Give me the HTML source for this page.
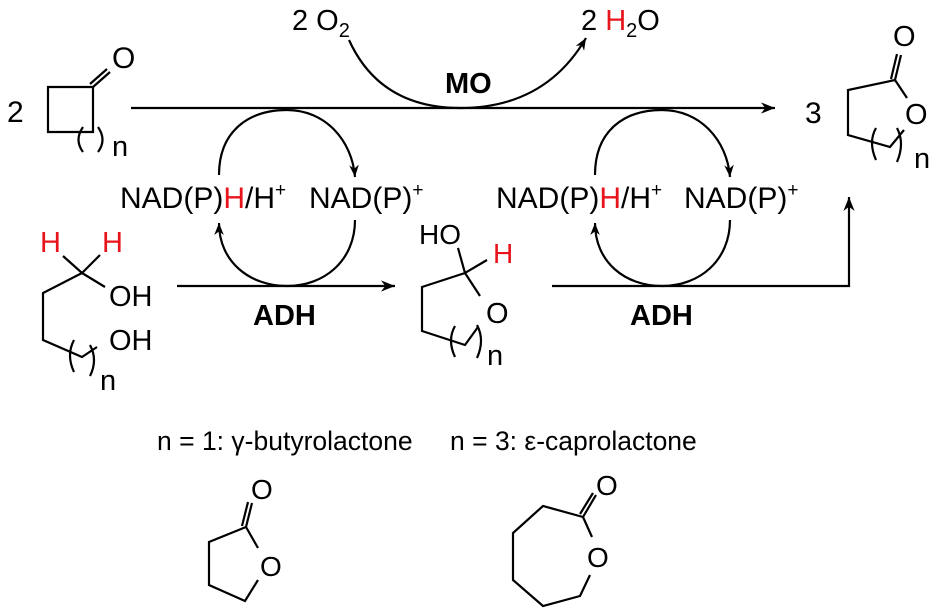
<!DOCTYPE html>
<html><head><meta charset="utf-8"><style>
html,body{margin:0;padding:0;background:#fff}
svg{display:block}
text{font-family:"Liberation Sans",Arial,sans-serif;fill:#000}
.r{fill:#e8141b}
</style></head><body>
<svg width="931" height="610" viewBox="0 0 931 610" xmlns="http://www.w3.org/2000/svg">
<defs>
<marker id="ah" viewBox="0 0 10 10" refX="10" refY="5" markerWidth="15" markerHeight="12" markerUnits="userSpaceOnUse" orient="auto">
<path d="M0,1 L10,5 L0,9 L3,5 Z" fill="#000"/></marker>
<marker id="ahL" viewBox="0 0 10 10" refX="10" refY="5" markerWidth="22" markerHeight="14" markerUnits="userSpaceOnUse" orient="auto">
<path d="M0,1 L10,5 L0,9 L3,5 Z" fill="#000"/></marker>
</defs>
<g stroke="#000" stroke-width="2.2" fill="none">
<path d="M48,87 H93 V132 H48 Z"/>
<path d="M93,87 L110,72 M90,84 L107,69"/>
<path d="M83,127 Q74,140 83,152 M98,127 Q107,140 98,152"/>
<path d="M131,108 H775" marker-end="url(#ahL)"/>
<path d="M349,40 Q380,108 460,108 Q545,108 586,38" marker-end="url(#ah)"/>
<path d="M219,175 C219,130 250,110 287,110 C325,110 352,140 355,177" marker-end="url(#ah)"/>
<path d="M355,220 C355,260 325,286 287,286 C250,286 219,262 219,223" marker-end="url(#ah)"/>
<path d="M595,175 C595,130 625,110 662,110 C700,110 727,140 730,177" marker-end="url(#ah)"/>
<path d="M730,220 C730,260 700,286 662,286 C625,286 595,262 595,223" marker-end="url(#ah)"/>
<path d="M177,286 H395" marker-end="url(#ahL)"/>
<path d="M552,286 H849 V197" marker-end="url(#ahL)"/>
<path d="M63,256 L82,273 L100,255 M82,273 L105,287 M82,273 L43,293 L43,340 L82,357 L97,347"/>
<path d="M74,340 Q66,355 74,372 M90,345 Q98,360 90,376"/>
<path d="M458,248 L465,273 L487,260 M465,273 L480,296 M465,273 L422,287 L422,331 L465,345 L478,327"/>
<path d="M455,326 Q447,340 455,357 M477,325 Q485,340 477,358"/>
<path d="M895,80 L848,90 L848,135 L890,147 L904,130 M895,80 L907,98 M895,80 L901,55 M891,79 L897,54"/>
<path d="M876,128 Q868,142 876,160 M897,128 Q905,143 897,162"/>
<path d="M246,527 L209,542 L209,585 L245,601 L258,580 M246,527 L258,548 M246,527 L252,503 M242,526 L248,502"/>
<path d="M583,517 L543,506 L513,533 L513,580 L543,606 L580,596 L590,575 M583,517 L592,537 M583,517 L596,495 M580,514 L593,493"/>
</g>
<text x="7" y="122" font-size="30">2</text>
<text x="112" y="68" font-size="30">O</text>
<text x="112" y="156" font-size="29">n</text>
<text x="292" y="30" font-size="29">2 O<tspan font-size="20" dy="7">2</tspan></text>
<text x="581" y="30" font-size="29">2 <tspan class="r">H</tspan><tspan font-size="20" dy="7">2</tspan><tspan dy="-7">O</tspan></text>
<text x="445" y="93" font-size="29" font-weight="bold">MO</text>
<text x="120" y="208" font-size="30">NAD(P)<tspan class="r">H</tspan>/H<tspan font-size="19" dy="-12">+</tspan></text>
<text x="309" y="208" font-size="30">NAD(P)<tspan font-size="19" dy="-12">+</tspan></text>
<text x="496" y="208" font-size="30">NAD(P)<tspan class="r">H</tspan>/H<tspan font-size="19" dy="-12">+</tspan></text>
<text x="684" y="208" font-size="30">NAD(P)<tspan font-size="19" dy="-12">+</tspan></text>
<text x="253" y="325" font-size="29" font-weight="bold">ADH</text>
<text x="630" y="325" font-size="29" font-weight="bold">ADH</text>
<text x="40" y="252" font-size="29" class="r">H</text>
<text x="102" y="252" font-size="29" class="r">H</text>
<text x="109" y="306" font-size="29">OH</text>
<text x="109" y="350" font-size="29">OH</text>
<text x="100" y="390" font-size="29">n</text>
<text x="419" y="244" font-size="28">HO</text>
<text x="493" y="263" font-size="28" class="r">H</text>
<text x="486" y="323" font-size="29">O</text>
<text x="487" y="365" font-size="29">n</text>
<text x="805" y="123" font-size="30">3</text>
<text x="893" y="46" font-size="29">O</text>
<text x="905" y="124" font-size="29">O</text>
<text x="914" y="168" font-size="29">n</text>
<text x="157" y="450" font-size="26.5">n = 1: γ-butyrolactone</text>
<text x="450" y="450" font-size="26.5">n = 3: ε-caprolactone</text>
<text x="251" y="499" font-size="28">O</text>
<text x="260" y="576" font-size="28">O</text>
<text x="596" y="495" font-size="28">O</text>
<text x="587" y="567" font-size="28">O</text>
</svg>
</body></html>
